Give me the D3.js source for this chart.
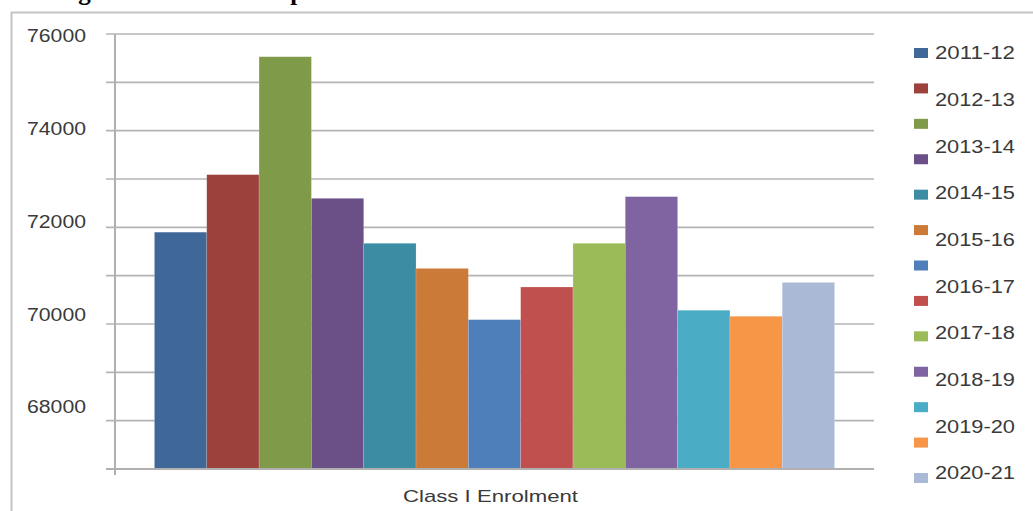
<!DOCTYPE html>
<html><head><meta charset="utf-8">
<script src="https://cdn.jsdelivr.net/npm/d3@7"></script>
<style>html,body{margin:0;padding:0;background:#fff;overflow:hidden}</style>
</head><body>
<svg id="c" width="1033" height="511"></svg>
<script>
// ---- data ----
const category = ["Class I  Enrolment"];
const values = [71900, 73090, 75530, 72600, 71670, 71150, 70090, 70765, 71670, 72635, 70285, 70160, 70860];
const colors = ["#3F6797", "#9D413C", "#7F9A48", "#6A5086", "#3C8DA3", "#CC7A37", "#4E7FBB", "#C0504D", "#9BBB59", "#8064A2", "#4BACC6", "#F79646", "#A9B9D6"];
const legendLabels = ["2011-12", "2012-13", "2013-14", "2014-15", "2015-16", "2016-17", "2017-18", "2018-19", "2019-20", "2020-21"];
const yTicks = [68000, 70000, 72000, 74000, 76000];
const yGrid = [67000, 68000, 69000, 70000, 71000, 72000, 73000, 74000, 75000, 76000];
const titleText = "Figure 1: Class I Comparison";

const svg = d3.select("#c");
const font = "'Liberation Sans', Arial, sans-serif";
const txt = "#3a3a3a";

// frame
svg.append("path").attr("d", "M11.5,511 L11.5,12.5 L1033,12.5")
  .attr("fill", "none").attr("stroke", "#c4c4c4").attr("stroke-width", 2);

// clipped title (only descenders visible)
svg.append("text").attr("x", 56).attr("y", -0.5)
  .attr("font-family", "'Liberation Serif', 'Times New Roman', serif")
  .attr("font-weight", "bold").attr("font-size", 25).attr("fill", "#000")
  .text(titleText);

// scales
const y = d3.scaleLinear().domain([67000, 76000]).range([469, 34]);
const yLab = d3.scaleLinear().domain([68000, 76000]).range([407, 36]);
const x0 = d3.scaleBand().domain(category).range([115, 874]).paddingInner(0).paddingOuter(0.058);
const x1 = d3.scaleBand().domain(d3.range(values.length)).range([0, x0.bandwidth()]).padding(0);

// gridlines
svg.append("g").selectAll("line").data(yGrid).join("line")
  .attr("x1", 106).attr("x2", 874)
  .attr("y1", d => y(d)).attr("y2", d => y(d))
  .attr("stroke", "#b4b4b4").attr("stroke-width", 1.6);

// bars
const g = svg.append("g").attr("transform", `translate(${x0(category[0])},0)`);
g.selectAll("rect").data(values).join("rect")
  .attr("x", (d, i) => x1(i)).attr("width", x1.bandwidth())
  .attr("y", d => y(d)).attr("height", d => y(67000) - y(d))
  .attr("fill", (d, i) => colors[i])
  .attr("stroke", "rgba(255,255,255,0.25)").attr("stroke-width", 0.6);

// axis lines
svg.append("line").attr("x1", 115).attr("x2", 115).attr("y1", 34).attr("y2", 475)
  .attr("stroke", "#b0b0b0").attr("stroke-width", 2);
svg.append("line").attr("x1", 106).attr("x2", 874).attr("y1", y(67000)).attr("y2", y(67000))
  .attr("stroke", "#b0b0b0").attr("stroke-width", 1.8);

// y labels
svg.append("g").selectAll("text").data(yTicks).join("text")
  .attr("x", 27).attr("y", d => yLab(d)).attr("dy", "0.36em")
  .attr("font-family", font).attr("font-size", 18).attr("fill", txt)
  .attr("textLength", 59).attr("lengthAdjust", "spacingAndGlyphs")
  .text(d => d);

// category label
svg.append("text").attr("x", 403).attr("y", 496).attr("dy", "0.36em")
  .attr("font-family", font).attr("font-size", 17).attr("fill", txt)
  .attr("textLength", 175).attr("lengthAdjust", "spacingAndGlyphs")
  .text(category[0]);

// legend
const ySq = d3.scaleLinear().domain([0, colors.length - 1]).range([53, 478]);
const yLeg = d3.scaleLinear().domain([0, legendLabels.length - 1]).range([53, 473]);
svg.append("g").selectAll("rect").data(colors).join("rect")
  .attr("x", 914).attr("y", (d, i) => ySq(i) - 5).attr("width", 14).attr("height", 10)
  .attr("fill", d => d);
svg.append("g").selectAll("text").data(legendLabels).join("text")
  .attr("x", 935).attr("y", (d, i) => yLeg(i)).attr("dy", "0.36em")
  .attr("font-family", font).attr("font-size", 18).attr("fill", txt)
  .attr("textLength", 80).attr("lengthAdjust", "spacingAndGlyphs")
  .text(d => d);
</script>
</body></html>
